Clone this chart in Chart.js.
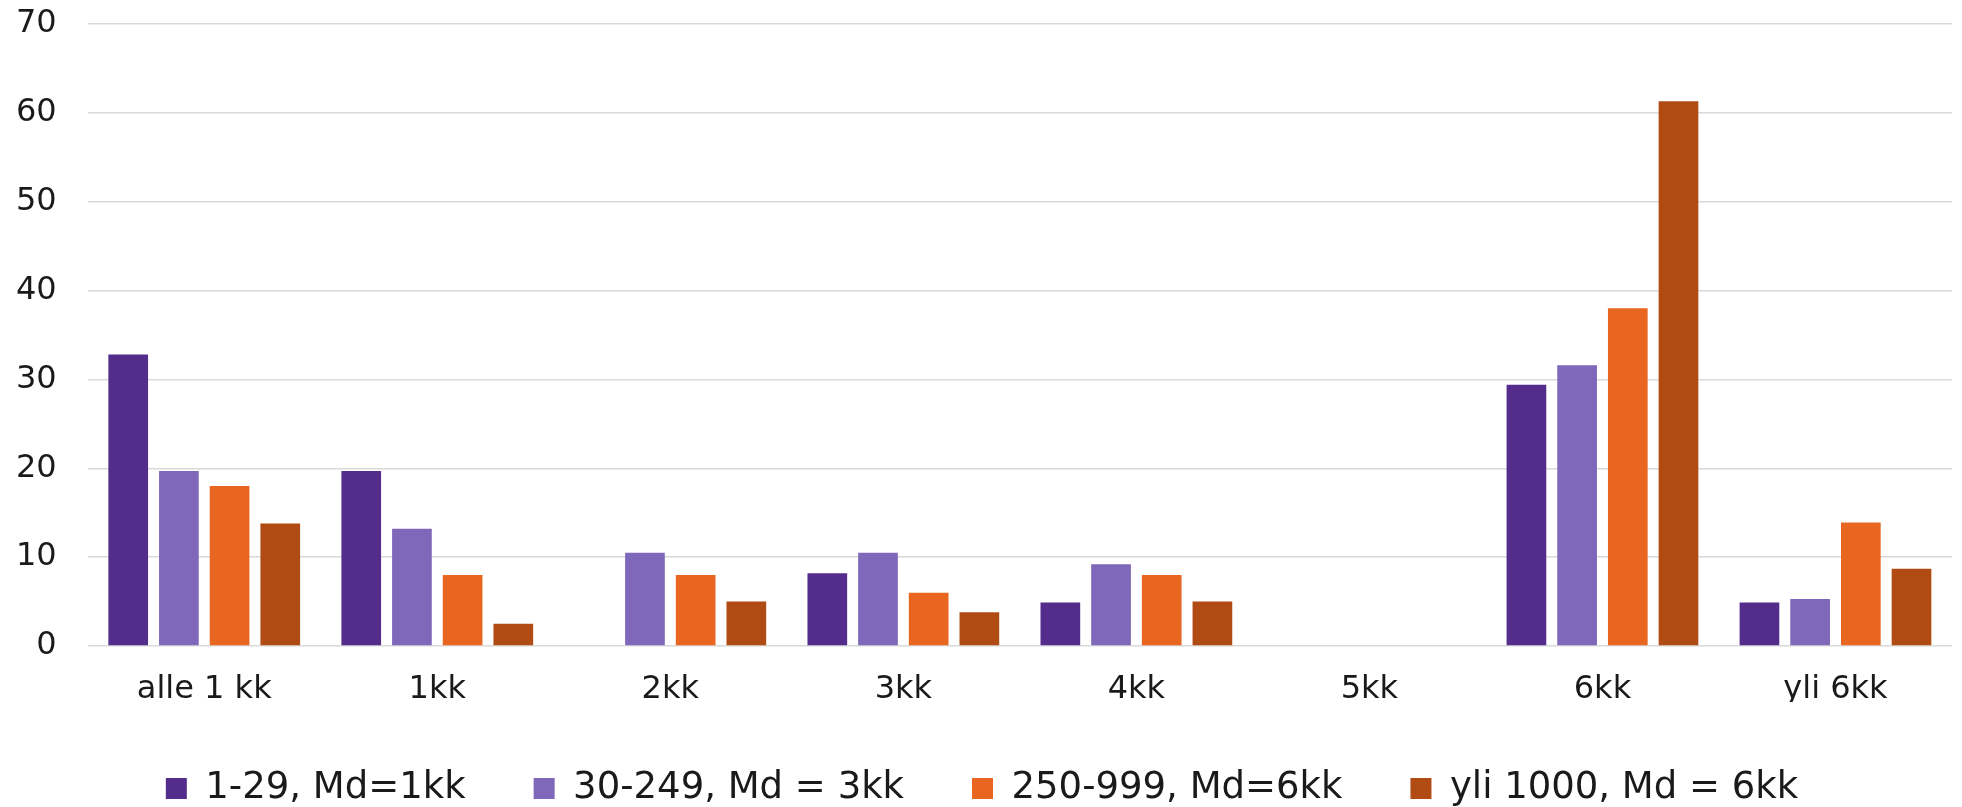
<!DOCTYPE html>
<html>
<head>
<meta charset="utf-8">
<script src="https://cdn.jsdelivr.net/npm/chart.js@4"></script>
<style>
  html, body { margin: 0; padding: 0; background: #fff; }
  #wrap { width: 1962px; height: 807px; }
</style>
</head>
<body>
<div id="wrap"><canvas id="chart"></canvas></div>
<script>
// categories + series
const categories = ['alle 1 kk', '1kk', '2kk', '3kk', '4kk', '5kk', '6kk', 'yli 6kk'];
const seriesNames = ['1-29, Md=1kk', '30-249, Md = 3kk', '250-999, Md=6kk', 'yli 1000, Md = 6kk'];
const small = [32.8, 19.7, 0, 8.2, 4.9, 0, 29.4, 4.9];
const medium = [19.7, 13.2, 10.5, 10.5, 9.2, 0, 31.6, 5.3];
const large = [18.0, 8.0, 8.0, 6.0, 8.0, 0, 38.0, 13.9];
const huge = [13.8, 2.5, 5.0, 3.8, 5.0, 0, 61.3, 8.7];
const yTicks = [0, 10, 20, 30, 40, 50, 60, 70];

const colors = ['#542d8c', '#7f67ba', '#e8661f', '#b04b14'];
const textColor = '#1a1a1a';
const font = 'DejaVu Sans, Verdana, sans-serif';

const datasets = [small, medium, large, huge].map((values, i) => ({
  label: seriesNames[i],
  data: values,
  backgroundColor: colors[i],
  borderWidth: 0,
  categoryPercentage: 0.87,
  barPercentage: 0.783
}));

new Chart(document.getElementById('chart'), {
  type: 'bar',
  data: { labels: categories, datasets },
  options: {
    responsive: true,
    maintainAspectRatio: false,
    animation: false,
    layout: { padding: { left: 12, right: 10, top: 24, bottom: -10 } },
    plugins: {
      tooltip: { enabled: false },
      legend: {
        position: 'bottom',
        labels: {
          color: textColor,
          font: { family: font, size: 37 },
          boxWidth: 21,
          boxHeight: 21,
          padding: 68
        }
      }
    },
    scales: {
      x: {
        // ticks hidden, tickLength only spaces the labels away from the axis
        grid: { display: false, drawTicks: true, tickLength: 32 },
        border: { display: false },
        ticks: { color: textColor, font: { family: font, size: 32, lineHeight: 0.75 }, padding: 0, maxRotation: 0 }
      },
      y: {
        min: 0,
        max: 70,
        afterBuildTicks: axis => { axis.ticks = yTicks.map(v => ({ value: v })); },
        grid: { color: '#d9d9d9', lineWidth: 1.5, drawTicks: true, tickLength: 27, tickColor: 'rgba(0,0,0,0)' },
        border: { display: false },
        ticks: { color: textColor, font: { family: font, size: 32 }, padding: 4 }
      }
    }
  }
});
</script>
</body>
</html>
